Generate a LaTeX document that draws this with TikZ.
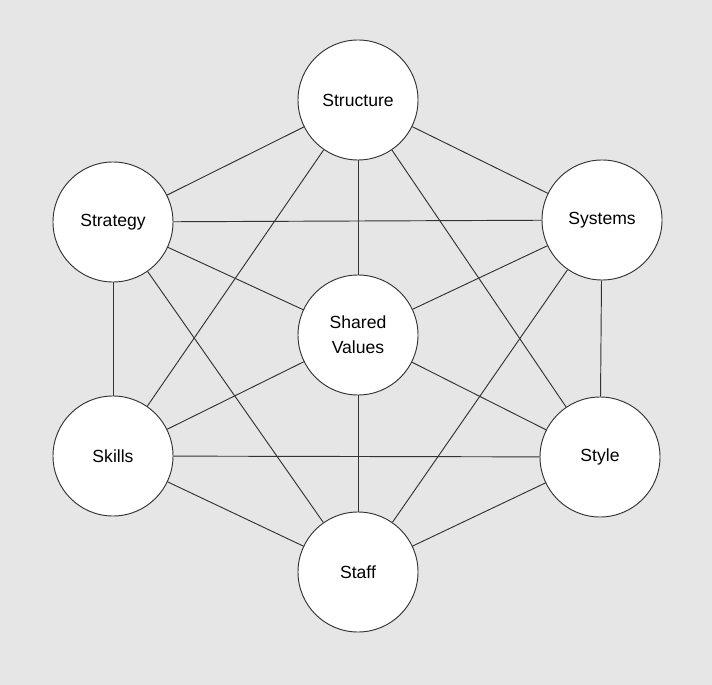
\documentclass[tikz,border=0pt]{standalone}
\usepackage{fontspec}
\setmainfont{Liberation Sans}
\definecolor{bggray}{HTML}{E6E6E6}
\definecolor{linegray}{HTML}{333333}
\begin{document}
\begin{tikzpicture}[x=0.03cm, y=-0.03cm, font=\fontsize{15}{21}\selectfont]
\fill[bggray] (0,0) rectangle (712,685);
\useasboundingbox (0,0) rectangle (712,685);
\tikzset{ess/.style={shape=circle, draw=linegray, fill=white, line width=0.8pt, minimum size=3.6cm, align=center}}
\node[ess] (Structure) at (358,100) {Structure};
\node[ess] (Strategy) at (113,222) {Strategy};
\node[ess] (Systems) at (602,220) {Systems};
\node[ess] (Shared) at (358,335) {Shared\\Values};
\node[ess] (Skills) at (113,456) {Skills};
\node[ess] (Style) at (600,457) {Style};
\node[ess] (Staff) at (358,572) {Staff};
\path [-, line width=0.8pt, draw=linegray] (Structure) edge (Strategy);
\path [-, line width=0.8pt, draw=linegray] (Structure) edge (Systems);
\path [-, line width=0.8pt, draw=linegray] (Structure) edge (Shared);
\path [-, line width=0.8pt, draw=linegray] (Structure) edge (Skills);
\path [-, line width=0.8pt, draw=linegray] (Structure) edge (Style);
\path [-, line width=0.8pt, draw=linegray] (Strategy) edge (Systems);
\path [-, line width=0.8pt, draw=linegray] (Strategy) edge (Shared);
\path [-, line width=0.8pt, draw=linegray] (Strategy) edge (Skills);
\path [-, line width=0.8pt, draw=linegray] (Strategy) edge (Staff);
\path [-, line width=0.8pt, draw=linegray] (Systems) edge (Shared);
\path [-, line width=0.8pt, draw=linegray] (Systems) edge (Style);
\path [-, line width=0.8pt, draw=linegray] (Systems) edge (Staff);
\path [-, line width=0.8pt, draw=linegray] (Shared) edge (Skills);
\path [-, line width=0.8pt, draw=linegray] (Shared) edge (Style);
\path [-, line width=0.8pt, draw=linegray] (Shared) edge (Staff);
\path [-, line width=0.8pt, draw=linegray] (Skills) edge (Style);
\path [-, line width=0.8pt, draw=linegray] (Skills) edge (Staff);
\path [-, line width=0.8pt, draw=linegray] (Style) edge (Staff);
\end{tikzpicture}
\end{document}
